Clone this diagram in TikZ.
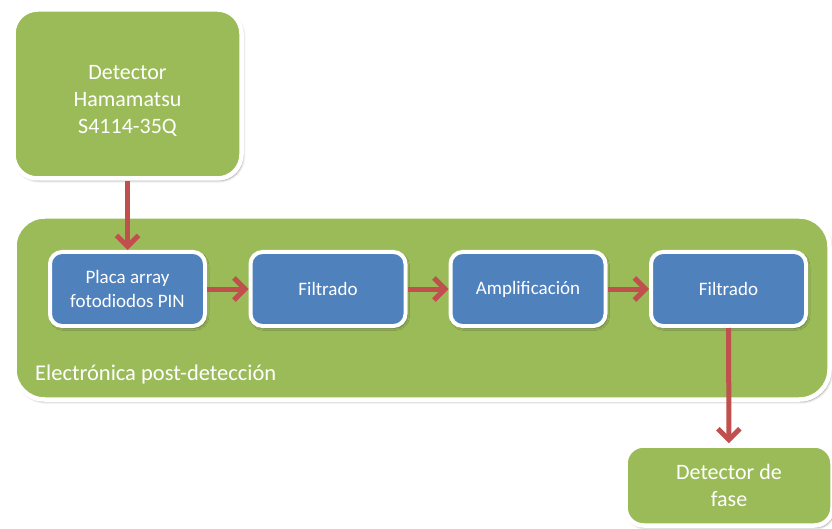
\documentclass[tikz,border=0pt]{standalone}
\usepackage{fontspec}
\setmainfont{Carlito}
\usetikzlibrary{arrows.meta,shadows.blur}
\definecolor{verde}{HTML}{9BBB59}
\definecolor{azul}{HTML}{4F81BD}
\definecolor{rojo}{HTML}{C0504D}
\tikzset{
  sombra/.style={blur shadow={shadow xshift=1.5pt,shadow yshift=-2pt,shadow blur radius=2.5pt,shadow blur steps=6,shadow opacity=45}},
  caja/.style={draw=white,line width=4.5pt,fill=verde,text=white,rounded corners=24pt,sombra,
    font=\fontsize{22}{27}\selectfont},
  bloque/.style={draw=white,line width=4pt,fill=azul,text=white,align=center,rounded corners=12pt,
    minimum width=155pt,minimum height=74pt,sombra,font=\fontsize{19}{23.5}\selectfont},
  flecha/.style={draw=rojo,line width=5pt}
}
\begin{document}
\begin{tikzpicture}[x=1pt,y=-1pt,>={Straight Barb[length=11pt,width=22pt]}]
    \useasboundingbox (0,0) rectangle (832,529);
    % bloque de electronica
    \node (elec) at (422,308) [caja,rounded corners=30pt,minimum width=815pt,minimum height=183pt]{};
    \node (etq) at (35,374) [anchor=west,inner sep=0pt,text=white,font=\fontsize{22.5}{27}\selectfont]{Electrónica post-detección};
    % detector y salida
    \node (det) at (127.5,94) [caja,minimum width=228pt,minimum height=169pt,text height=0pt,text depth=0pt]
        {\raisebox{-12.5pt}{\begin{tabular}{@{}c@{}}Detector\\Hamamatsu\\S4114-35Q\end{tabular}}};
    \node (fase) at (729,485.5) [caja,align=center,rounded corners=18pt,minimum width=207pt,minimum height=80pt]{Detector de\\fase};
    % cadena de bloques
    \node (placa) at (127.5,289) [bloque]{Placa array\\fotodiodos PIN};
    \node (fil1) at (328,289) [bloque]{Filtrado};
    \node (amp) at (528,289) [bloque]{Amplificación};
    \node (fil2) at (728.5,289) [bloque]{Filtrado};
    \draw [flecha,->](det)--(placa);
    \foreach \a/\b in {placa/fil1,fil1/amp,amp/fil2}
        { \draw [flecha,->](\a)--(\b); }
    \draw [flecha,->](fil2)--(fase);
\end{tikzpicture}
\end{document}
